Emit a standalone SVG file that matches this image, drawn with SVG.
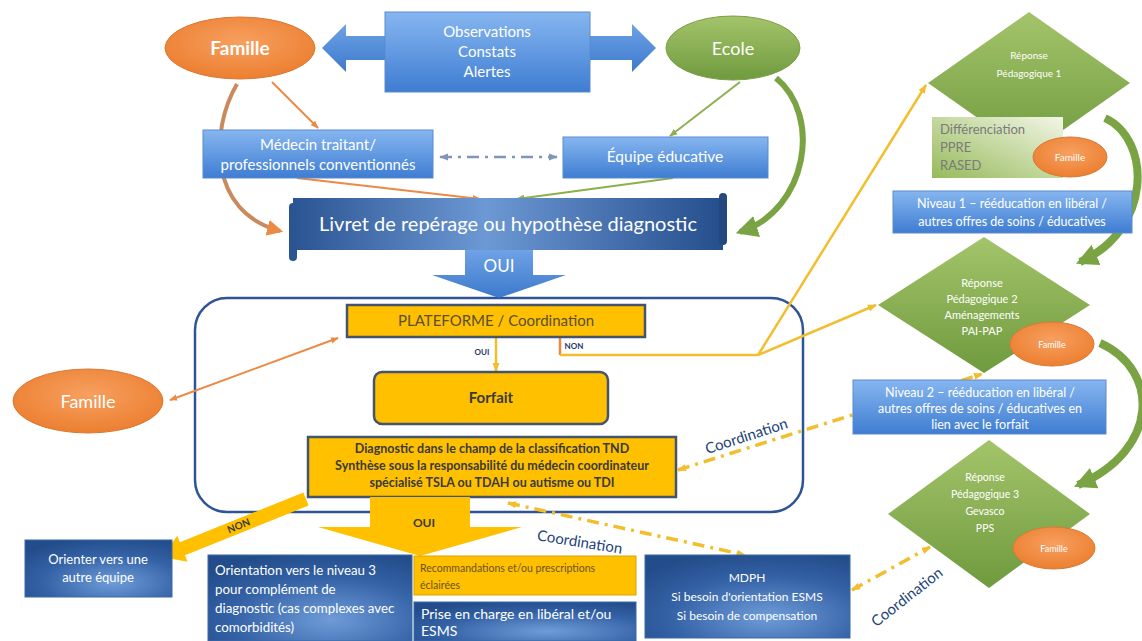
<svg xmlns="http://www.w3.org/2000/svg" width="1142" height="641" viewBox="0 0 1142 641">
<defs>
<style>
text{font-family:Lato,"Open Sans","Liberation Sans",sans-serif}
.w{fill:#ffffff}
.wt{fill:#ffffff;text-anchor:middle}
.dk{fill:#3a3a3a;text-anchor:middle;font-weight:bold}
.lbl{fill:#1F3864;font-weight:bold;text-anchor:middle}
.co{fill:#23427A;text-anchor:middle}
.yb{fill:#FFC000;stroke:#44546A;stroke-width:2.5}
.lb{fill:url(#gBlueL);stroke:#5a8bd0;stroke-width:1}
.db{fill:url(#gBlueD);stroke:#3a6aa8;stroke-width:1}
.gr{fill:url(#gGreen)}
.or{fill:url(#gOrange);stroke:#d87a35;stroke-width:1}
.cOr{stroke:#EB8A45;stroke-width:2;fill:none}
.cGr{stroke:#8DB04F;stroke-width:2;fill:none}
.cYe{stroke:#F2BE2E;stroke-width:2.5;fill:none}
.dd{stroke:#F2BE2E;stroke-width:3.5;fill:none;stroke-dasharray:12 6 3 6}
</style>
<linearGradient id="gBlueL" x1="0" y1="0" x2="0" y2="1"><stop offset="0" stop-color="#86B6F0"/><stop offset="1" stop-color="#3F7DD2"/></linearGradient>
<radialGradient id="gBlueD" cx="0.6" cy="0.75" r="0.8"><stop offset="0" stop-color="#6F9CD8"/><stop offset="0.6" stop-color="#3462A6"/><stop offset="1" stop-color="#234C8A"/></radialGradient>
<linearGradient id="gLivret" x1="0" y1="0" x2="1" y2="0"><stop offset="0" stop-color="#2B5592"/><stop offset="0.45" stop-color="#6C98D4"/><stop offset="1" stop-color="#254E8C"/></linearGradient>
<linearGradient id="gGreen" x1="0" y1="0" x2="0" y2="1"><stop offset="0" stop-color="#A4C46A"/><stop offset="1" stop-color="#6F9A3E"/></linearGradient>
<linearGradient id="gDiff" x1="0" y1="1" x2="1" y2="0"><stop offset="0" stop-color="#96BA5A"/><stop offset="1" stop-color="#F2F6E6"/></linearGradient>
<radialGradient id="gOrange" cx="0.5" cy="0.4" r="0.6"><stop offset="0" stop-color="#F7A060"/><stop offset="1" stop-color="#EC7F30"/></radialGradient>
<linearGradient id="gArrow" x1="0" y1="0" x2="0" y2="1"><stop offset="0" stop-color="#6FA2E6"/><stop offset="1" stop-color="#3C79CC"/></linearGradient>
<marker id="mOr" viewBox="0 0 10 10" refX="9" refY="5" markerWidth="8" markerHeight="8" markerUnits="userSpaceOnUse" orient="auto-start-reverse"><path d="M0,1 L10,5 L0,9 Z" fill="#EB8A45"/></marker>
<marker id="mGr" viewBox="0 0 10 10" refX="9" refY="5" markerWidth="8" markerHeight="8" markerUnits="userSpaceOnUse" orient="auto-start-reverse"><path d="M0,1 L10,5 L0,9 Z" fill="#8DB04F"/></marker>
<marker id="mYe" viewBox="0 0 10 10" refX="9" refY="5" markerWidth="9" markerHeight="9" markerUnits="userSpaceOnUse" orient="auto-start-reverse"><path d="M0,1 L10,5 L0,9 Z" fill="#F2BE2E"/></marker>
<marker id="mBg" viewBox="0 0 10 10" refX="9" refY="5" markerWidth="9" markerHeight="9" markerUnits="userSpaceOnUse" orient="auto-start-reverse"><path d="M0,1 L10,5 L0,9 Z" fill="#8096B8"/></marker>
<marker id="mOrB" viewBox="0 0 10 10" refX="8" refY="5" markerWidth="16" markerHeight="16" markerUnits="userSpaceOnUse" orient="auto"><path d="M0,0 L10,5 L0,10 Z" fill="#EB8A45"/></marker>
<marker id="mGrB" viewBox="0 0 10 10" refX="8" refY="5" markerWidth="22" markerHeight="22" markerUnits="userSpaceOnUse" orient="auto"><path d="M0,0 L10,5 L0,10 Z" fill="#7AA443"/></marker>
</defs>

<g id="container"><rect x="195" y="298" width="608" height="214" rx="32" fill="none" stroke="#2F5496" stroke-width="2.5"/></g>

<g id="connectors">
<line class="cOr" x1="272" y1="82" x2="318" y2="128" marker-end="url(#mOr)"/>
<line class="cOr" x1="297" y1="178" x2="480" y2="199" marker-end="url(#mOr)"/>
<line class="cGr" x1="740" y1="82" x2="670" y2="136" marker-end="url(#mGr)"/>
<line class="cGr" x1="673" y1="178" x2="517" y2="199" marker-end="url(#mGr)"/>
<path d="M237,84 C210,130 208,212 280,231" stroke="#C98A5E" stroke-width="4" fill="none" marker-end="url(#mOrB)"/>
<path d="M776,78 C822,115 808,210 740,232" stroke="#7AA443" stroke-width="6" fill="none" marker-end="url(#mGrB)"/>
<line x1="440" y1="157" x2="557" y2="157" stroke="#8096B8" stroke-width="2.5" stroke-dasharray="12 6 3 6" marker-start="url(#mBg)" marker-end="url(#mBg)"/>
<line class="cOr" x1="170" y1="400" x2="338" y2="338" marker-start="url(#mOr)" marker-end="url(#mOr)"/>
<line class="cYe" x1="496" y1="337" x2="496" y2="371" marker-end="url(#mYe)"/>
<path d="M560,337 V355" stroke="#EB8A45" stroke-width="2.5" fill="none"/>
<path class="cYe" d="M560,355 H758"/>
<line class="cYe" x1="758" y1="355" x2="926" y2="85" marker-end="url(#mYe)"/>
<line class="cYe" x1="758" y1="355" x2="876" y2="305" marker-end="url(#mYe)"/>
<line class="dd" x1="678" y1="470" x2="982" y2="374" marker-start="url(#mYe)" marker-end="url(#mYe)"/>
<line class="dd" x1="508" y1="503" x2="745" y2="555" marker-start="url(#mYe)" marker-end="url(#mYe)"/>
<line class="dd" x1="852" y1="590" x2="930" y2="547" marker-start="url(#mYe)" marker-end="url(#mYe)"/>
<path d="M1105,118 C1152,140 1152,230 1080,262" stroke="#7AA443" stroke-width="8" fill="none" marker-end="url(#mGrB)"/>
<path d="M1100,343 C1160,370 1160,450 1078,485" stroke="#7AA443" stroke-width="8" fill="none" marker-end="url(#mGrB)"/>
</g>

<g id="famille-top"><ellipse class="or" cx="240" cy="48" rx="75" ry="31"/><text class="wt" x="240" y="55" font-size="19" font-weight="bold">Famille</text></g>
<g id="obs-arrow"><polygon points="322,48 346,24 346,36 632,36 632,24 656,48 632,72 632,60 346,60 346,72" fill="url(#gArrow)"/></g>
<g id="observations"><rect class="lb" x="385" y="12" width="205" height="80"/>
<text class="wt" font-size="15"><tspan x="487" y="37">Observations</tspan><tspan x="487" y="57">Constats</tspan><tspan x="487" y="77">Alertes</tspan></text></g>
<g id="ecole"><ellipse cx="733" cy="48" rx="67" ry="32" fill="url(#gGreen)" stroke="#7c9f48"/><text class="wt" x="733" y="55" font-size="18">Ecole</text></g>
<g id="medecin"><rect class="lb" x="203" y="130" width="230" height="48"/>
<text class="wt" font-size="15"><tspan x="318" y="150">Médecin traitant/</tspan><tspan x="318" y="170">professionnels conventionnés</tspan></text></g>
<g id="equipe"><rect class="lb" x="563" y="137" width="205" height="41"/><text class="wt" x="665" y="162" font-size="15.5">Équipe éducative</text></g>
<g id="livret">
<rect x="293" y="198" width="430" height="52" fill="url(#gLivret)"/>
<rect x="289" y="203" width="8" height="58" rx="4" fill="#2A5592"/>
<rect x="719" y="193" width="8" height="52" rx="4" fill="#24487F"/>
<text class="wt" x="508" y="231" font-size="20">Livret de repérage ou hypothèse diagnostic</text></g>
<g id="oui-arrow"><polygon points="465,250 533,250 533,275 566,275 499,298 432,275 465,275" fill="url(#gArrow)"/><text class="wt" x="499" y="272" font-size="17">OUI</text></g>

<g id="plateforme"><rect class="yb" x="347" y="305" width="298" height="32"/><text x="496" y="326" font-size="15" fill="#5a4e36" text-anchor="middle">PLATEFORME / Coordination</text></g>
<g id="labels-small"><text class="lbl" x="482" y="355" font-size="8">OUI</text><text class="lbl" x="574" y="349" font-size="8">NON</text></g>
<g id="forfait"><rect class="yb" x="374" y="372" width="234" height="52" rx="8"/><text class="dk" x="491" y="403" font-size="15">Forfait</text></g>
<g id="diagnostic"><rect class="yb" x="308" y="437" width="368" height="60"/>
<text class="dk" font-size="12.5"><tspan x="492" y="453">Diagnostic dans le champ de la classification TND</tspan><tspan x="492" y="470">Synthèse sous la responsabilité du médecin coordinateur</tspan><tspan x="492" y="487">spécialisé TSLA ou TDAH ou autisme ou TDI</tspan></text></g>
<g id="oui-yellow"><polygon points="370,497 470,497 470,527 522,527 420,556 318,527 370,527" fill="#FFC000"/><text class="dk" x="424" y="527" font-size="12">OUI</text></g>
<g id="non-yellow"><polygon points="303.4,492.5 179.8,542.3 177.2,535.8 162,557 187.6,561.8 185,555.3 308.6,505.5" fill="#FFC000"/><text class="dk" x="240" y="529" font-size="10" transform="rotate(-21.9 240 529)">NON</text></g>

<g id="famille-left"><ellipse class="or" cx="88" cy="401" rx="75" ry="32"/><text class="wt" x="88" y="408" font-size="18">Famille</text></g>

<g id="orienter"><rect class="db" x="25" y="540" width="147" height="57"/><text class="wt" font-size="13"><tspan x="98" y="564">Orienter vers une</tspan><tspan x="98" y="582">autre équipe</tspan></text></g>
<g id="orientation"><rect class="db" x="208" y="555" width="204" height="86"/>
<text class="w" font-size="13.3"><tspan x="215" y="575">Orientation vers le niveau 3</tspan><tspan x="215" y="594">pour complément de</tspan><tspan x="215" y="613">diagnostic (cas complexes avec</tspan><tspan x="215" y="632">comorbidités)</tspan></text></g>
<g id="recommandations"><rect x="414" y="556" width="222" height="39" fill="#FFC000" stroke="#d9a400"/><text font-size="10.5" fill="#6a5220"><tspan x="420" y="572">Recommandations  et/ou prescriptions</tspan><tspan x="420" y="589">éclairées</tspan></text></g>
<g id="prise"><rect class="db" x="414" y="602" width="222" height="39"/><text class="w" font-size="14"><tspan x="421" y="619">Prise en charge en libéral et/ou</tspan><tspan x="421" y="636">ESMS</tspan></text></g>
<g id="mdph"><rect class="db" x="645" y="555" width="205" height="83"/><text class="wt" font-size="12"><tspan x="747" y="582">MDPH</tspan><tspan x="747" y="601">Si besoin d'orientation  ESMS</tspan><tspan x="747" y="620">Si besoin de compensation</tspan></text></g>

<g id="coord-labels">
<text class="co" x="748" y="441" font-size="15" transform="rotate(-18 748 441)">Coordination</text>
<text class="co" x="579" y="547" font-size="15" transform="rotate(9 579 547)">Coordination</text>
<text class="co" x="910" y="601" font-size="15" transform="rotate(-38 910 601)">Coordination</text>
</g>

<g id="reponse1"><polygon class="gr" points="928,83 1029,12 1130,83 1029,154"/><text class="wt" font-size="10"><tspan x="1029" y="59">Réponse</tspan><tspan x="1029" y="77">Pédagogique 1</tspan></text></g>
<g id="differenciation"><rect x="932" y="117" width="131" height="61" fill="url(#gDiff)"/><text font-size="13" fill="#7a7a7a"><tspan x="940" y="134">Différenciation</tspan><tspan x="940" y="152">PPRE</tspan><tspan x="940" y="170">RASED</tspan></text></g>
<g id="famille-r1"><ellipse class="or" cx="1070" cy="157" rx="37" ry="20"/><text class="wt" x="1070" y="161" font-size="10">Famille</text></g>
<g id="niveau1"><rect class="lb" x="893" y="191" width="239" height="42"/><text class="wt" font-size="12.5"><tspan x="1012" y="208">Niveau 1 – rééducation en libéral /</tspan><tspan x="1012" y="226">autres offres de soins / éducatives</tspan></text></g>
<g id="reponse2"><polygon class="gr" points="878,305 984,237 1090,305 984,373"/><text class="wt" font-size="11"><tspan x="982" y="287">Réponse</tspan><tspan x="982" y="303">Pédagogique 2</tspan><tspan x="982" y="319">Aménagements</tspan><tspan x="982" y="335">PAI-PAP</tspan></text></g>
<g id="famille-r2"><ellipse class="or" cx="1052" cy="344" rx="42" ry="22"/><text class="wt" x="1052" y="348" font-size="9">Famille</text></g>
<g id="niveau2"><rect class="lb" x="853" y="380" width="253" height="54"/><text class="wt" font-size="12.5"><tspan x="980" y="397">Niveau 2 – rééducation en libéral /</tspan><tspan x="980" y="413">autres offres de soins / éducatives en</tspan><tspan x="980" y="429">lien avec le forfait</tspan></text></g>
<g id="reponse3"><polygon class="gr" points="888,514 989,440 1090,514 989,588"/><text class="wt" font-size="10.5"><tspan x="985" y="481">Réponse</tspan><tspan x="985" y="498">Pédagogique 3</tspan><tspan x="985" y="515">Gevasco</tspan><tspan x="985" y="532">PPS</tspan></text></g>
<g id="famille-r3"><ellipse class="or" cx="1054" cy="548" rx="41" ry="21"/><text class="wt" x="1054" y="552" font-size="9">Famille</text></g>
</svg>
